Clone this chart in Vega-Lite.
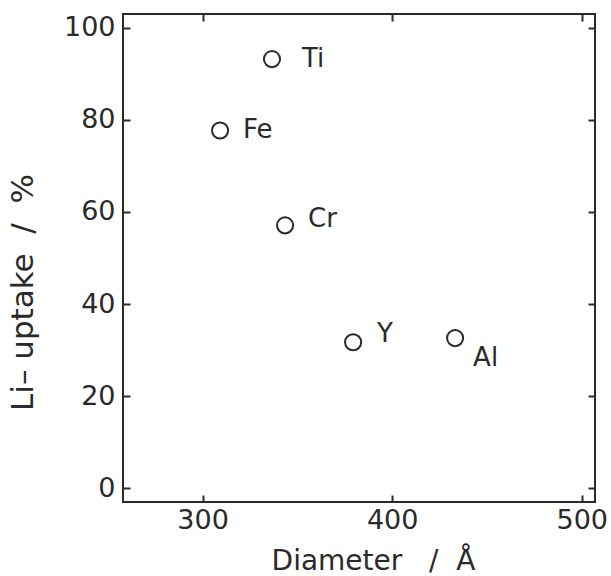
{
  "$schema": "https://vega.github.io/schema/vega-lite/v6.json",
  "autosize": "none",
  "width": 472,
  "height": 488,
  "padding": {"left": 123, "top": 14, "right": 16, "bottom": 74},
  "background": "white",
  "config": {
    "view": {"stroke": "#2a2a2a", "strokeWidth": 2},
    "axis": {
      "grid": false,
      "domain": false,
      "tickColor": "#2a2a2a",
      "tickWidth": 2,
      "tickSize": -7,
      "labelFont": "DejaVu Sans",
      "labelFontSize": 27,
      "labelColor": "#2a2a2a",
      "titleFont": "DejaVu Sans",
      "titleFontSize": 28,
      "titleFontWeight": "normal",
      "titleColor": "#2a2a2a"
    }
  },
  "data": {
    "values": [
      {"element": "Ti", "diameter": 336.6, "uptake": 93.2},
      {"element": "Fe", "diameter": 309.2, "uptake": 77.7},
      {"element": "Cr", "diameter": 343.5, "uptake": 57.1},
      {"element": "Y", "diameter": 379.4, "uptake": 31.7},
      {"element": "Al", "diameter": 433.2, "uptake": 32.6}
    ]
  },
  "encoding": {
    "x": {"field": "diameter", "type": "quantitative", "scale": {"domain": [258, 507], "nice": false, "zero": false}},
    "y": {"field": "uptake", "type": "quantitative", "scale": {"domain": [-3, 103], "nice": false, "zero": false}}
  },
  "resolve": {"axis": {"x": "independent", "y": "independent"}},
  "layer": [
    {
      "mark": {"type": "point", "shape": "circle", "filled": false, "size": 260, "strokeWidth": 2, "color": "#2a2a2a", "opacity": 1},
      "encoding": {
        "x": {"field": "diameter", "type": "quantitative", "axis": {"orient": "bottom", "values": [300, 400, 500], "title": "Diameter\u00a0\u00a0\u00a0/\u00a0\u00a0Å", "labelPadding": 12, "titleX": 250, "titleY": 67, "titleAlign": "center", "titleBaseline": "alphabetic"}},
        "y": {"field": "uptake", "type": "quantitative", "axis": {"orient": "left", "values": [0, 20, 40, 60, 80, 100], "title": "Li–\u00a0uptake\u00a0\u00a0/\u00a0\u00a0%", "titleFontSize": 31, "labelPadding": 15, "titleX": -100, "titleY": 278, "titleAngle": -90, "titleAlign": "center", "titleBaseline": "middle"}}
      }
    },
    {
      "mark": {"type": "point", "opacity": 0},
      "encoding": {
        "x": {"field": "diameter", "type": "quantitative", "axis": {"orient": "top", "values": [300, 400, 500], "labels": false, "title": null}},
        "y": {"field": "uptake", "type": "quantitative", "axis": {"orient": "right", "values": [0, 20, 40, 60, 80, 100], "labels": false, "title": null}}
      }
    },
    {
      "transform": [{"filter": "datum.element === 'Ti'"}],
      "mark": {"type": "text", "align": "left", "baseline": "middle", "dx": 30, "dy": 0, "font": "DejaVu Sans", "fontSize": 26, "color": "#2a2a2a"},
      "encoding": {"x": {"field": "diameter", "type": "quantitative", "axis": null}, "y": {"field": "uptake", "type": "quantitative", "axis": null}, "text": {"field": "element"}}
    },
    {
      "transform": [{"filter": "datum.element === 'Fe'"}],
      "mark": {"type": "text", "align": "left", "baseline": "middle", "dx": 23, "dy": 0, "font": "DejaVu Sans", "fontSize": 26, "color": "#2a2a2a"},
      "encoding": {"x": {"field": "diameter", "type": "quantitative", "axis": null}, "y": {"field": "uptake", "type": "quantitative", "axis": null}, "text": {"field": "element"}}
    },
    {
      "transform": [{"filter": "datum.element === 'Cr'"}],
      "mark": {"type": "text", "align": "left", "baseline": "middle", "dx": 23, "dy": -6, "font": "DejaVu Sans", "fontSize": 26, "color": "#2a2a2a"},
      "encoding": {"x": {"field": "diameter", "type": "quantitative", "axis": null}, "y": {"field": "uptake", "type": "quantitative", "axis": null}, "text": {"field": "element"}}
    },
    {
      "transform": [{"filter": "datum.element === 'Y'"}],
      "mark": {"type": "text", "align": "left", "baseline": "middle", "dx": 24, "dy": -8, "font": "DejaVu Sans", "fontSize": 26, "color": "#2a2a2a"},
      "encoding": {"x": {"field": "diameter", "type": "quantitative", "axis": null}, "y": {"field": "uptake", "type": "quantitative", "axis": null}, "text": {"field": "element"}}
    },
    {
      "transform": [{"filter": "datum.element === 'Al'"}],
      "mark": {"type": "text", "align": "left", "baseline": "middle", "dx": 18, "dy": 20, "font": "DejaVu Sans", "fontSize": 26, "color": "#2a2a2a"},
      "encoding": {"x": {"field": "diameter", "type": "quantitative", "axis": null}, "y": {"field": "uptake", "type": "quantitative", "axis": null}, "text": {"field": "element"}}
    }
  ]
}
